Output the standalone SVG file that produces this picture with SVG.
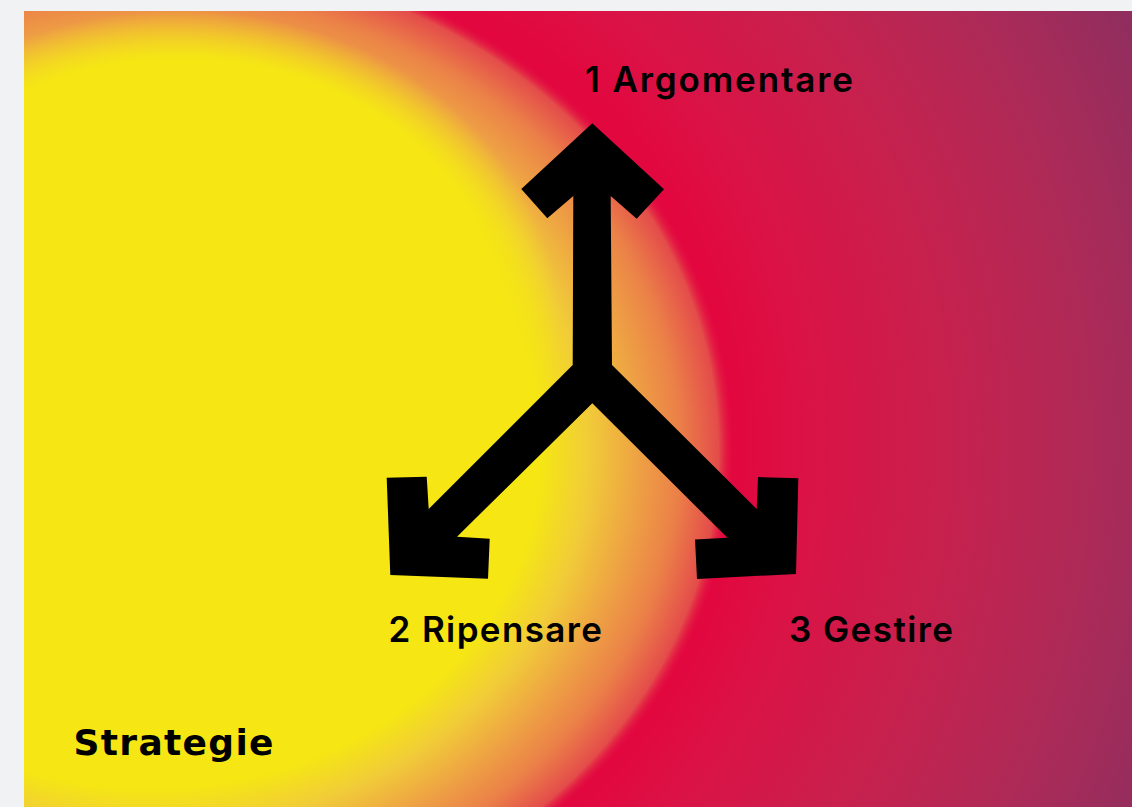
<svg xmlns="http://www.w3.org/2000/svg" width="1132" height="807" viewBox="0 0 1132 807">
  <defs>
    <radialGradient id="baseGrad" gradientUnits="userSpaceOnUse" cx="256" cy="441" r="980">
      <stop offset="0" stop-color="#e2073f"/>
      <stop offset="0.489" stop-color="#e2073f"/>
      <stop offset="0.56" stop-color="#db1245"/>
      <stop offset="0.70" stop-color="#c8204d"/>
      <stop offset="0.85" stop-color="#ae2a57"/>
      <stop offset="1" stop-color="#8e2e5f"/>
    </radialGradient>
    <radialGradient id="sunGrad" gradientUnits="userSpaceOnUse" cx="150" cy="450" r="585" gradientTransform="translate(150 450) scale(1 0.865) translate(-150 -450)">
      <stop offset="0" stop-color="#f5e614"/>
      <stop offset="0.67" stop-color="#f5e614"/>
      <stop offset="0.75" stop-color="#f1cc38"/>
      <stop offset="0.838" stop-color="#eea044"/>
      <stop offset="0.906" stop-color="#eb8048"/>
      <stop offset="0.972" stop-color="#e44c4a"/>
      <stop offset="1" stop-color="#e2073f" stop-opacity="0"/>
    </radialGradient>
    <radialGradient id="topGrad" gradientUnits="userSpaceOnUse" cx="180" cy="330" r="380" gradientTransform="translate(180 330) scale(1 0.842) translate(-180 -330)">
      <stop offset="0" stop-color="#f5e614"/>
      <stop offset="0.85" stop-color="#f5e614"/>
      <stop offset="1" stop-color="#f5e614" stop-opacity="0"/>
    </radialGradient>
    <style>
      .lbl { font-family: Inter, "Liberation Sans", sans-serif; font-weight: 600; font-size: 35px; fill: #000; }
      .title { font-family: "DejaVu Sans", "Liberation Sans", sans-serif; font-weight: bold; font-size: 36px; fill: #000; }
      .arrow { fill: #000; }
    </style>
  </defs>

  <rect x="0" y="0" width="1132" height="807" fill="#f1f2f4"/>
  <g id="background">
    <rect x="24" y="11" width="1108" height="796" fill="url(#baseGrad)"/>
    <rect x="24" y="11" width="1108" height="796" fill="url(#sunGrad)"/>
    <rect x="24" y="11" width="1108" height="796" fill="url(#topGrad)"/>
  </g>

  <g id="connectors">
    <path class="arrow" d="M592.3,123.3 L664,189.3 L636.7,218.7 L610.7,196 L612,365 L756.7,509 L758,477 L798.3,478.3 L796,574 L697,579 L695,539.5 L727.5,537.8 L592.3,403.3 L457,536.7 L489.7,538.7 L488,578.7 L390.3,575 L386.7,477.8 L426.7,476.7 L428.7,509 L572.7,365 L573.3,196 L547.3,218.3 L521.3,189 Z"/>
  </g>

  <g id="node-argomentare">
    <text class="lbl" x="585" y="91.7" textLength="268">1 Argomentare</text>
  </g>
  <g id="node-ripensare">
    <text class="lbl" x="388.5" y="641.7" textLength="213.5">2 Ripensare</text>
  </g>
  <g id="node-gestire">
    <text class="lbl" x="789" y="641.7" textLength="164">3 Gestire</text>
  </g>
  <g id="node-strategie">
    <text class="title" x="73.5" y="755" textLength="200">Strategie</text>
  </g>
</svg>
